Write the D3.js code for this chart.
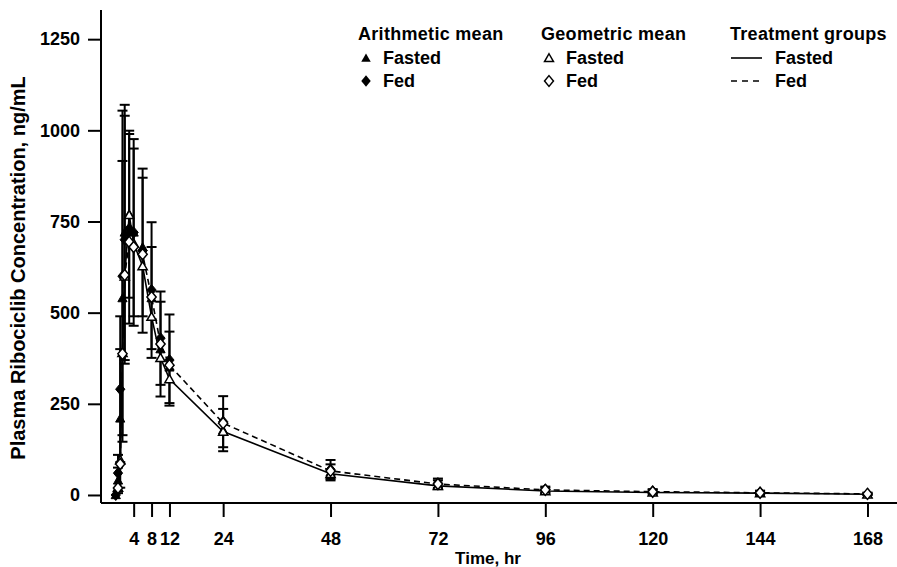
<!DOCTYPE html>
<html>
<head>
<meta charset="utf-8">
<script src="https://cdn.jsdelivr.net/npm/d3@7"></script>
<style>
  body { margin: 0; background: #fff; }
  svg text { font-family: "Liberation Sans", Arial, Helvetica, sans-serif; font-weight: bold; fill: #000; }
</style>
</head>
<body>
<div id="vis"></div>
<script>
const WIDTH = 897;
const HEIGHT = 567;

// sampling times (hr)
const times = [0, 0.5, 1, 1.5, 2, 3, 4, 6, 8, 10, 12, 24, 48, 72, 96, 120, 144, 168];

// arithmetic mean +- SD
const fastedArith   = [0, 40, 210, 540, 720, 770, 720, 680, 540, 400, 350, 178, 62, 28, 13, 9, 6, 3];
const fastedArithSD = [0, 35, 190, 376, 350, 229, 256, 190, 140, 130, 98, 58, 22, 12, 7, 5, 4, 3];
const fedArith      = [0, 60, 290, 600, 700, 730, 720, 670, 562, 430, 370, 201, 70, 32, 15, 10, 7, 3];
const fedArithSD    = [0, 50, 200, 454, 340, 260, 230, 225, 186, 128, 125, 70, 26, 13, 8, 6, 5, 3];

// geometric mean
const fastedGeo = [null, 20, 96, 390, 600, 768, 690, 628, 489, 376, 318, 174, 58, 25, 11, 7, 5, 2];
const fedGeo    = [null, 19, 85, 387, 603, 694, 680, 660, 543, 414, 356, 197, 66, 30, 14, 9, 6, 3];

const xTicks = [4, 8, 12, 24, 48, 72, 96, 120, 144, 168];
const yTicks = [0, 250, 500, 750, 1000, 1250];

const svg = d3.select("#vis").append("svg")
  .attr("width", WIDTH).attr("height", HEIGHT);

const x = d3.scaleLinear().domain([-3.3, 174.6]).range([101, 897]);
const y = d3.scaleLinear().domain([-22, 1330]).range([503, 10]);

// simbolos a medida
const triangle = {
  draw(ctx, size) {
    const r = Math.sqrt(size) / 2;
    ctx.moveTo(0, -r * 0.95);
    ctx.lineTo(r, r * 0.8);
    ctx.lineTo(-r, r * 0.8);
    ctx.closePath();
  }
};
const diamond = {
  draw(ctx, size) {
    const r = Math.sqrt(size) / 2;
    ctx.moveTo(0, -r * 1.2);
    ctx.lineTo(r, 0);
    ctx.lineTo(0, r * 1.2);
    ctx.lineTo(-r, 0);
    ctx.closePath();
  }
};

function series(vals) {
  return times.map((t, i) => ({ t: t, v: vals[i] }));
}
function seriesSD(vals, sd) {
  return times.map((t, i) => ({ t: t, v: vals[i], sd: sd[i] }));
}

// ejes
const xAxis = svg.append("g")
  .attr("transform", `translate(0,503)`)
  .call(d3.axisBottom(x).tickValues(xTicks).tickSize(14).tickSizeOuter(0).tickPadding(15));
const yAxis = svg.append("g")
  .attr("transform", `translate(101,0)`)
  .call(d3.axisLeft(y).tickValues(yTicks).tickFormat(d3.format("d")).tickSize(13).tickSizeOuter(0).tickPadding(8));

[xAxis, yAxis].forEach(a => {
  a.select(".domain").attr("stroke", "#000").attr("stroke-width", 2);
  a.selectAll(".tick line").attr("stroke", "#000").attr("stroke-width", 2);
  a.selectAll(".tick text").style("font-size", "18px").style("font-family", null);
});
xAxis.select(".domain").attr("d", "M101,0H897");
yAxis.select(".domain").attr("d", "M0,10V503");

svg.append("text")
  .attr("x", 488).attr("y", 564)
  .attr("text-anchor", "middle")
  .style("font-size", "17px")
  .text("Time, hr");

svg.append("text")
  .attr("transform", "translate(25,268) rotate(-90)")
  .attr("text-anchor", "middle")
  .style("font-size", "20px")
  .text("Plasma Ribociclib Concentration, ng/mL");

// barras de error
const plot = svg.append("g");
[seriesSD(fastedArith, fastedArithSD), seriesSD(fedArith, fedArithSD)].forEach(data => {
  const g = plot.append("g").selectAll("g").data(data.filter(d => d.sd > 0)).join("g");
  g.append("line")
    .attr("x1", d => x(d.t)).attr("x2", d => x(d.t))
    .attr("y1", d => y(d.v - d.sd)).attr("y2", d => y(d.v + d.sd))
    .attr("stroke", "#000").attr("stroke-width", 2);
  g.append("line")
    .attr("x1", d => x(d.t) - 5).attr("x2", d => x(d.t) + 5)
    .attr("y1", d => y(d.v + d.sd)).attr("y2", d => y(d.v + d.sd))
    .attr("stroke", "#000").attr("stroke-width", 2);
  g.append("line")
    .attr("x1", d => x(d.t) - 5).attr("x2", d => x(d.t) + 5)
    .attr("y1", d => y(d.v - d.sd)).attr("y2", d => y(d.v - d.sd))
    .attr("stroke", "#000").attr("stroke-width", 2);
});

// lineas (medias geometricas)
const line = d3.line().defined(d => d.v != null).x(d => x(d.t)).y(d => y(d.v));
plot.append("path").datum(series(fastedGeo))
  .attr("d", line).attr("fill", "none").attr("stroke", "#000").attr("stroke-width", 1.6);
plot.append("path").datum(series(fedGeo))
  .attr("d", line).attr("fill", "none").attr("stroke", "#000").attr("stroke-width", 1.6)
  .attr("stroke-dasharray", "6,4");

// marcadores
function markers(data, type, filled) {
  plot.append("g").selectAll("path")
    .data(data.filter(d => d.v != null))
    .join("path")
    .attr("transform", d => `translate(${x(d.t)},${y(d.v)})`)
    .attr("d", d3.symbol().type(type).size(85))
    .attr("fill", filled ? "#000" : "#fff")
    .attr("stroke", "#000")
    .attr("stroke-width", filled ? 1 : 1.5);
}
markers(series(fastedArith), triangle, true);
markers(series(fedArith), diamond, true);
markers(series(fastedGeo), triangle, false);
markers(series(fedGeo), diamond, false);

// leyenda
const legend = svg.append("g").style("font-size", "18px");
const cols = [
  { x: 358, title: "Arithmetic mean" },
  { x: 541, title: "Geometric mean" },
  { x: 730, title: "Treatment groups" }
];
cols.forEach(c => {
  legend.append("text").attr("x", c.x).attr("y", 40).style("letter-spacing", "0.3px").text(c.title);
});
const rows = [{ y: 64, label: "Fasted" }, { y: 87, label: "Fed" }];
rows.forEach((r, i) => {
  const sym = i === 0 ? triangle : diamond;
  legend.append("path")
    .attr("transform", `translate(${cols[0].x + 8},${r.y - 6})`)
    .attr("d", d3.symbol().type(sym).size(90))
    .attr("fill", "#000");
  legend.append("path")
    .attr("transform", `translate(${cols[1].x + 8},${r.y - 6})`)
    .attr("d", d3.symbol().type(sym).size(80))
    .attr("fill", "#fff").attr("stroke", "#000").attr("stroke-width", 1.5);
  legend.append("line")
    .attr("x1", cols[2].x + 1).attr("x2", cols[2].x + 32)
    .attr("y1", r.y - 6).attr("y2", r.y - 6)
    .attr("stroke", "#000").attr("stroke-width", 1.6)
    .attr("stroke-dasharray", i === 0 ? null : "6,5");
  legend.append("text").attr("x", cols[0].x + 25).attr("y", r.y).text(r.label);
  legend.append("text").attr("x", cols[1].x + 25).attr("y", r.y).text(r.label);
  legend.append("text").attr("x", cols[2].x + 45).attr("y", r.y).text(r.label);
});
</script>
</body>
</html>
